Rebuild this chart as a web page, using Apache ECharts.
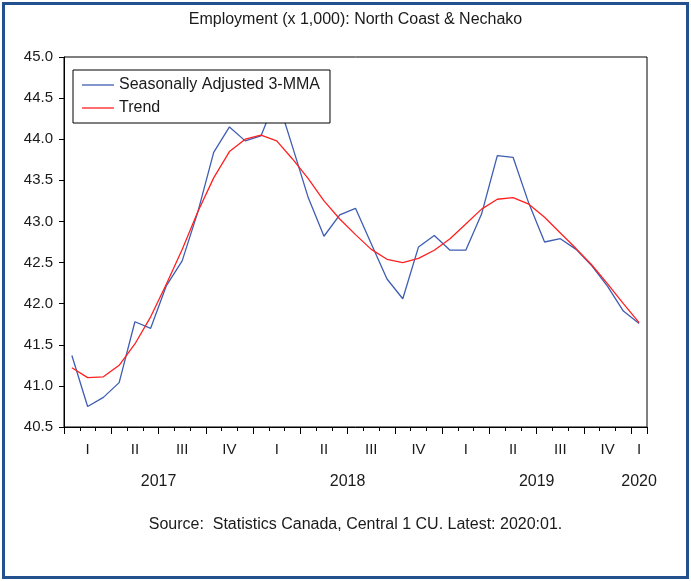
<!DOCTYPE html>
<html>
<head>
<meta charset="utf-8">
<script src="https://cdn.jsdelivr.net/npm/echarts@6/dist/echarts.min.js"></script>
<style>
  html, body { margin: 0; padding: 0; background: #fff; }
  #chart { position: absolute; left: 0; top: 0; width: 691px; height: 581px; }
  #frame { position: absolute; left: 2px; top: 2px; width: 687px; height: 577px;
           box-sizing: border-box; border: 3px solid #23518f; pointer-events: none; }
</style>
</head>
<body>
<div id="chart"></div>
<div id="frame"></div>
<script>
// ---- data ----
const categories = [
  '2017-01','2017-02','2017-03','2017-04','2017-05','2017-06','2017-07','2017-08','2017-09','2017-10','2017-11','2017-12',
  '2018-01','2018-02','2018-03','2018-04','2018-05','2018-06','2018-07','2018-08','2018-09','2018-10','2018-11','2018-12',
  '2019-01','2019-02','2019-03','2019-04','2019-05','2019-06','2019-07','2019-08','2019-09','2019-10','2019-11','2019-12',
  '2020-01'
];
const seasonallyAdjusted3MMA = [
  41.37, 40.75, 40.86, 41.04, 41.78, 41.70, 42.22, 42.52, 43.12, 43.84, 44.15, 43.98,
  44.04, 44.52, 43.91, 43.29, 42.82, 43.08, 43.16, 42.73, 42.30, 42.06, 42.69, 42.83,
  42.65, 42.65, 43.09, 43.80, 43.78, 43.22, 42.75, 42.79, 42.66, 42.46, 42.21, 41.91,
  41.76
];
const trend = [
  41.22, 41.10, 41.11, 41.25, 41.51, 41.84, 42.24, 42.66, 43.12, 43.53, 43.85, 44.00,
  44.05, 43.98, 43.76, 43.52, 43.25, 43.03, 42.84, 42.66, 42.54, 42.50, 42.55, 42.65,
  42.79, 42.97, 43.15, 43.27, 43.29, 43.21, 43.05, 42.86, 42.67, 42.47, 42.24, 42.00,
  41.77
];
const quarterLabels = ['I', 'II', 'III', 'IV'];
const yearLabels = ['2017', '2018', '2019', '2020'];
const yTicks = { min: 40.5, max: 45.0, step: 0.5 };
const seriesNames = ['Seasonally Adjusted 3-MMA', 'Trend'];
const seriesColors = ['#3e5db3', '#ff2020'];
const titleText = 'Employment (x 1,000): North Coast & Nechako';
const sourceText = 'Source:  Statistics Canada, Central 1 CU. Latest: 2020:01.';

// ---- derived ----
const monthOf = c => parseInt(c.split('-')[1], 10);
const yearOf = c => c.split('-')[0];
// year label positions on a 0..N value scale: centre of that year's months
const yearPos = {};
yearLabels.forEach(y => {
  const idx = categories.map((c, i) => yearOf(c) === y ? i : -1).filter(i => i >= 0);
  if (idx.length) yearPos[((idx[0] + idx[idx.length - 1] + 1) / 2).toFixed(1)] = y;
});

const FONT = '"Liberation Sans", Arial, sans-serif';
const TXT = '#1a1a1a';
const chart = echarts.init(document.getElementById('chart'), null, { renderer: 'canvas' });

const plot = { left: 64, top: 57, width: 583, height: 370 };
const lineIcon = 'path://M0,0H32V1.3H0Z';

chart.setOption({
  backgroundColor: 'transparent',
  animation: false,
  grid: { left: plot.left, top: plot.top, width: plot.width, height: plot.height,
          show: true, borderColor: '#000', borderWidth: 1, backgroundColor: '#fff' },
  graphic: [
    { type: 'text', x: plot.left + plot.width / 2, y: 20,
      style: { text: titleText, align: 'center', verticalAlign: 'middle',
               font: '16px ' + FONT, fill: TXT } },
    { type: 'text', x: plot.left + plot.width / 2, y: 525,
      style: { text: sourceText, align: 'center', verticalAlign: 'middle',
               font: '16px ' + FONT, fill: TXT } }
  ],
  legend: {
    orient: 'vertical', left: 73, top: 70,
    backgroundColor: '#fff', borderColor: '#000', borderWidth: 1, borderRadius: 0,
    padding: [7, 10, 7, 9], itemWidth: 32, itemHeight: 14, itemGap: 7,
    symbolKeepAspect: true,
    textStyle: { fontFamily: FONT, fontSize: 16, color: TXT },
    data: seriesNames.map(n => ({ name: n, icon: lineIcon }))
  },
  xAxis: [
    { type: 'category', data: categories, boundaryGap: true, position: 'bottom',
      axisLine: { show: true, lineStyle: { color: '#000', width: 1 } },
      axisTick: { show: true, interval: 0, length: 4, lineStyle: { color: '#000' } },
      splitLine: { show: false },
      axisLabel: {
        margin: 15, fontFamily: FONT, fontSize: 15, color: TXT,
        interval: (i) => { const m = monthOf(categories[i]); return m % 3 === 2 || i === categories.length - 1; },
        formatter: (v) => quarterLabels[Math.floor((monthOf(v) - 1) / 3)]
      } },
    { type: 'category', data: categories, boundaryGap: true, position: 'bottom',
      axisLine: { show: false },
      axisTick: { show: true, length: 7, lineStyle: { color: '#000' },
                  interval: (i) => (monthOf(categories[i]) - 1) % 3 === 0 },
      axisLabel: { show: false }, splitLine: { show: false } },
    { type: 'value', min: 0, max: categories.length, interval: 0.5, position: 'bottom',
      axisLine: { show: false }, axisTick: { show: false }, splitLine: { show: false },
      axisLabel: { margin: 47, fontFamily: FONT, fontSize: 16, color: TXT,
                   showMinLabel: true, showMaxLabel: true,
                   formatter: (v) => yearPos[v.toFixed(1)] || '' } }
  ],
  yAxis: {
    type: 'value', min: yTicks.min, max: yTicks.max, interval: yTicks.step,
    axisLine: { show: true, lineStyle: { color: '#000' } },
    axisTick: { show: true, length: 5, lineStyle: { color: '#000' } },
    splitLine: { show: false },
    axisLabel: { margin: 11, fontFamily: FONT, fontSize: 15, color: TXT,
                 formatter: (v) => v.toFixed(1) }
  },
  series: [
    { name: seriesNames[0], type: 'line', data: seasonallyAdjusted3MMA, xAxisIndex: 0,
      symbol: 'none', lineStyle: { color: seriesColors[0], width: 1.3 }, itemStyle: { color: seriesColors[0] }, z: 2 },
    { name: seriesNames[1], type: 'line', data: trend, xAxisIndex: 0,
      symbol: 'none', lineStyle: { color: seriesColors[1], width: 1.3 }, itemStyle: { color: seriesColors[1] }, z: 3 }
  ]
});
</script>
</body>
</html>
